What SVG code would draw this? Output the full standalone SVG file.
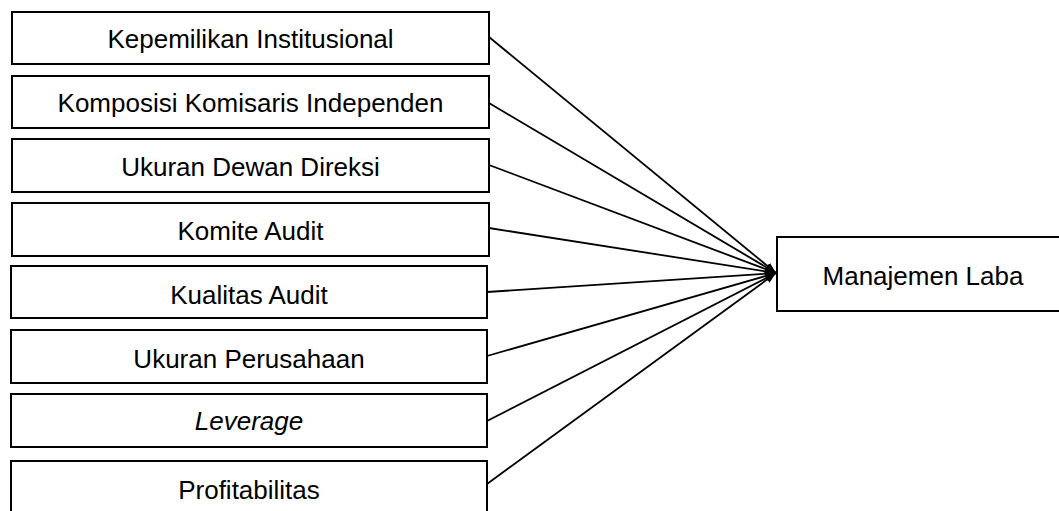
<svg xmlns="http://www.w3.org/2000/svg" width="1059" height="511" viewBox="0 0 1059 511">
<style>
.box{fill:#fff;stroke:#000;stroke-width:2}
.lbl{font-family:"Liberation Sans",Arial,sans-serif;font-size:26px;fill:#000;text-anchor:middle}
.conn{stroke:#000;stroke-width:1.8;fill:none;marker-end:url(#arr)}
</style>
<defs>
<marker id="arr" markerUnits="userSpaceOnUse" markerWidth="12" markerHeight="10" refX="11" refY="4" orient="auto">
<path d="M0,0 L11,4 L0,8 Z" fill="#000"/>
</marker>
</defs>
<rect width="1059" height="511" fill="#fff"/>
<g id="connectors">
<line class="conn" x1="489" y1="37" x2="776" y2="273"/>
<line class="conn" x1="489" y1="103" x2="776" y2="273"/>
<line class="conn" x1="489" y1="165" x2="776" y2="273"/>
<line class="conn" x1="489" y1="228" x2="776" y2="273"/>
<line class="conn" x1="487" y1="292" x2="776" y2="273"/>
<line class="conn" x1="487" y1="356" x2="776" y2="273"/>
<line class="conn" x1="487" y1="421" x2="776" y2="273"/>
<line class="conn" x1="487" y1="484" x2="776" y2="273"/>
</g>
<g id="n1"><rect class="box" x="12" y="12" width="477" height="52"/><text class="lbl" x="250.5" y="48">Kepemilikan Institusional</text></g>
<g id="n2"><rect class="box" x="12" y="76" width="477" height="52"/><text class="lbl" x="250.5" y="112">Komposisi Komisaris Independen</text></g>
<g id="n3"><rect class="box" x="12" y="139" width="477" height="53"/><text class="lbl" x="250.5" y="176">Ukuran Dewan Direksi</text></g>
<g id="n4"><rect class="box" x="12" y="203" width="477" height="53"/><text class="lbl" x="250.5" y="240">Komite Audit</text></g>
<g id="n5"><rect class="box" x="11" y="266" width="476" height="52"/><text class="lbl" x="249" y="304">Kualitas Audit</text></g>
<g id="n6"><rect class="box" x="11" y="330" width="476" height="53"/><text class="lbl" x="249" y="368">Ukuran Perusahaan</text></g>
<g id="n7"><rect class="box" x="11" y="394" width="476" height="53"/><text class="lbl" x="249" y="430" font-style="italic">Leverage</text></g>
<g id="n8"><rect class="box" x="11" y="461" width="476" height="60"/><text class="lbl" x="249" y="499">Profitabilitas</text></g>
<g id="target"><rect class="box" x="777" y="237" width="300" height="74"/><text class="lbl" x="923" y="285">Manajemen Laba</text></g>
</svg>
